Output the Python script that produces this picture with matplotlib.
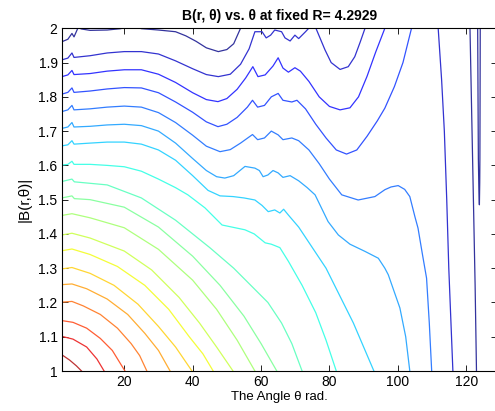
import numpy as np
import matplotlib
matplotlib.use("Agg")
import matplotlib.pyplot as plt

# contour lines: (theta, |B|) points, level 0 = highest (dark red)
c00 = [(1.8,1.047),(4,1.032),(6,1.015),(7.5,1.0)]
c01 = [(1.8,1.101),(5,1.093),(9,1.07),(12,1.035),(14.1,1.0)]
c02 = [(1.8,1.147),(5,1.142),(9,1.125),(13,1.095),(16.5,1.06),(20.2,1.0)]
c03 = [(1.8,1.201),(4.7,1.203),(8,1.19),(13,1.165),(18,1.125),(22,1.08),(24.5,1.045),(26.6,1.0)]
c04 = [(1.8,1.252),(4.7,1.254),(9,1.24),(15,1.21),(21,1.165),(26,1.11),(30,1.06),(33.4,1.0)]
c05 = [(1.8,1.298),(4.7,1.302),(10,1.285),(17,1.25),(24,1.195),(30,1.13),(35,1.07),(39.8,1.0)]
c06 = [(1.8,1.351),(4.7,1.356),(10,1.34),(18,1.305),(26,1.25),(33,1.18),(39,1.10),(43,1.05),(46,1.0)]
c07 = [(1.8,1.397),(4.7,1.402),(10,1.388),(20,1.35),(28,1.295),(36,1.215),(42,1.14),(47,1.07),(51.8,1.0)]
c08 = [(1.8,1.454),(4.7,1.459),(10,1.447),(20,1.418),(30,1.355),(40,1.265),(47,1.18),(53,1.09),(58.2,1.0)]
c09 = [(1.8,1.505),(4.7,1.511),(5.4,1.503),(10,1.50),(20,1.478),(30,1.42),(40,1.335),(48,1.25),(55,1.16),
       (60,1.08),(64.6,1.0)]
c10 = [(1.8,1.553),(4.7,1.56),(5.4,1.552),(15,1.543),(25,1.505),(35,1.44),(45,1.36),(52,1.30),(58,1.24),
       (62,1.20),(66,1.14),(69,1.08),(72,1.0)]
c11 = [(1.8,1.601),(3.5,1.603),(4.7,1.612),(5.3,1.603),(10,1.603),(15,1.60),(20,1.596),(25,1.583),(30,1.56),
       (35,1.535),(38.6,1.514),(43.6,1.476),(48.6,1.426),(55.3,1.412),(58,1.40),(61.2,1.374),(63,1.37),
       (65.5,1.36),(68,1.32),(72,1.25),(76,1.17),(79,1.09),(82,1.0)]
c12 = [(1.8,1.657),(3.5,1.66),(4.7,1.672),(5.3,1.662),(10,1.665),(15,1.668),(20,1.668),(25,1.662),(30,1.645),
       (35,1.615),(40,1.57),(44.5,1.527),(48,1.511),(51.8,1.509),(55,1.505),(58.2,1.499),(60.3,1.483),
       (62.1,1.465),(64,1.47),(65.5,1.461),(66.6,1.472),(68,1.455),(71,1.42),(75,1.36),(79,1.30),(83,1.22),
       (87,1.14),(90,1.07),(93,1.0)]
c13 = [(1.8,1.708),(3.5,1.712),(4.7,1.725),(5.3,1.712),(10,1.714),(15,1.718),(20,1.72),(25,1.716),(30,1.70),
       (35,1.665),(40,1.62),(44,1.585),(47,1.567),(49.4,1.563),(52,1.57),(55.3,1.597),(58.2,1.592),(59.5,1.585),
       (60.6,1.567),(62,1.572),(63.5,1.585),(65,1.578),(66.4,1.565),(68.5,1.57),(71,1.555),(73.5,1.535),
       (75.8,1.514),(79.6,1.436),(82.6,1.397),(86,1.37),(90.4,1.349),(94.3,1.329),(96.2,1.30),(97.2,1.281),
       (100.6,1.184),(102.3,1.10),(103.5,1.0)]
c14 = [(1.8,1.757),(3.5,1.762),(4.7,1.775),(5.3,1.762),(10,1.765),(15,1.77),(20,1.773),(25,1.77),(30,1.754),
       (35,1.725),(40,1.688),(44,1.656),(48,1.640),(51,1.646),(54,1.665),(57.5,1.69),(59,1.675),(61,1.68),
       (63,1.70),(65,1.689),(66.4,1.675),(69,1.68),(71,1.672),(74,1.645),(77,1.605),(80,1.56),(83.6,1.514),
       (88.4,1.499),(93.3,1.509),(96.2,1.529),(98,1.537),(100.1,1.541),(102,1.53),(103.5,1.509),(105,1.45),
       (105.9,1.417),(107.2,1.34),(108.4,1.271),(109.2,1.14),(109.9,1.0)]
c15 = [(1.8,1.808),(3.5,1.813),(4.7,1.826),(5.3,1.813),(10,1.817),(15,1.823),(20,1.827),(25,1.826),(30,1.812),
       (35,1.785),(40,1.755),(44,1.727),(47.4,1.713),(50,1.72),(53,1.74),(56,1.77),(57.5,1.79),(59,1.77),
       (61,1.775),(63,1.80),(65,1.81),(66.4,1.79),(69,1.785),(70.5,1.79),(73,1.765),(76,1.72),(79,1.68),
       (82,1.645),(85,1.633),(88,1.645),(91,1.685),(94,1.73),(96.2,1.767),(99,1.83),(101.5,1.9),(104,2.0)]
c16 = [(1.8,1.859),(3.5,1.864),(4.7,1.877),(5.3,1.865),(10,1.868),(15,1.875),(20,1.879),(25,1.879),(30,1.866),
       (35,1.842),(40,1.812),(44,1.792),(47.4,1.786),(50,1.795),(53,1.822),(55.5,1.855),(57.6,1.888),
       (59.1,1.859),(61.2,1.864),(63.5,1.89),(65,1.914),(66.4,1.884),(68,1.872),(69.9,1.885),(71.5,1.875),
       (74,1.845),(77,1.80),(80,1.772),(83.1,1.762),(86,1.768),(88.5,1.80),(91,1.86),(93.5,1.93),(96.2,2.0)]
c17 = [(1.8,1.908),(3.5,1.913),(4.7,1.928),(5.3,1.915),(10,1.92),(15,1.928),(20,1.932),(25,1.932),(30,1.925),
       (35,1.905),(40,1.882),(44,1.865),(47.5,1.859),(51,1.866),(54,1.895),(56.5,1.94),(58.2,1.99),(60.3,1.99),
       (61.5,1.972),(62.8,1.98),(64,1.995),(66,1.99),(67,1.972),(68.5,1.963),(69.9,1.98),(71,1.97),(73,1.99),
       (74.5,2.006),(75.8,2.006),(78.7,1.937),(80.5,1.9),(83.1,1.880),(85.5,1.888),(87.4,1.917),(89,1.96),
       (90.4,2.0)]
c18 = [(1.8,1.961),(3.5,1.968),(4.7,1.985),(5.3,1.975),(6.5,2.002),(7.5,1.998),(10,1.994),(15,1.995),(19,1.999),
       (21,2.006),(23,2.006),(25,1.999),(30,1.995),(35,1.99),(38,1.978),(41,1.962),(44,1.943),(47.5,1.932),
       (50,1.938),(52,1.955),(54,2.0)]
r1 = [(111.8,2.0),(112.8,1.85),(113.6,1.7),(114.3,1.5),(114.9,1.3),(115.5,1.15),(116.1,1.0)]
r2 = [(121.1,2.0),(121.6,1.75),(122.1,1.5),(122.6,1.25),(123.0,1.0)]
r3 = [(123.35,2.0),(123.45,1.8),(123.55,1.62),(123.7,1.53),(123.85,1.485),(123.95,1.55),(124.0,1.62),
      (124.05,1.8),(124.1,2.0)]

contours = [(c00,0),(c01,1),(c02,2),(c03,3),(c04,4),(c05,5),(c06,6),(c07,7),(c08,8),(c09,9),
            (c10,10),(c11,11),(c12,12),(c13,13),(c14,14),(c15,15),(c16,16),(c17,17),(c18,18),
            (r1,17),(r2,18),(r3,18)]

plt.rcParams['font.family'] = ['Liberation Sans', 'DejaVu Sans']

fig = plt.figure(figsize=(4.95, 4.11), dpi=100)
ax = fig.add_axes([61.7/495, 40/411, (497-61.7)/495, (371-28.3)/411])

for pts, k in contours:
    a = np.array(pts)
    # thin MATLAB lines look paler than pure jet, so mix a little white in
    col = 0.8*np.array(plt.cm.jet(0.96 - 0.053*k)[:3]) + 0.2
    ax.plot(a[:, 0], a[:, 1], color=col, lw=0.9)

ax.set_xlim(1.7, 129)
ax.set_ylim(1, 2)
ax.set_xticks([20, 40, 60, 80, 100, 120])
ax.set_yticks(np.arange(1, 2.01, 0.1))
ax.set_yticklabels(['1', '1.1', '1.2', '1.3', '1.4', '1.5', '1.6', '1.7', '1.8', '1.9', '2'])
ax.tick_params(direction='in', top=True, right=True, length=4, width=0.6, labelsize=10, pad=3)
for s in ax.spines.values():
    s.set_linewidth(0.8)

ax.set_title('B(r, θ) vs. θ at fixed R= 4.2929', fontsize=10, fontweight='bold', pad=6)
ax.set_xlabel('The Angle θ rad.', fontsize=9.5, labelpad=1)
ax.set_ylabel('|B(r,θ)|', fontsize=11, labelpad=5)

fig.savefig('out.png', dpi=100)
